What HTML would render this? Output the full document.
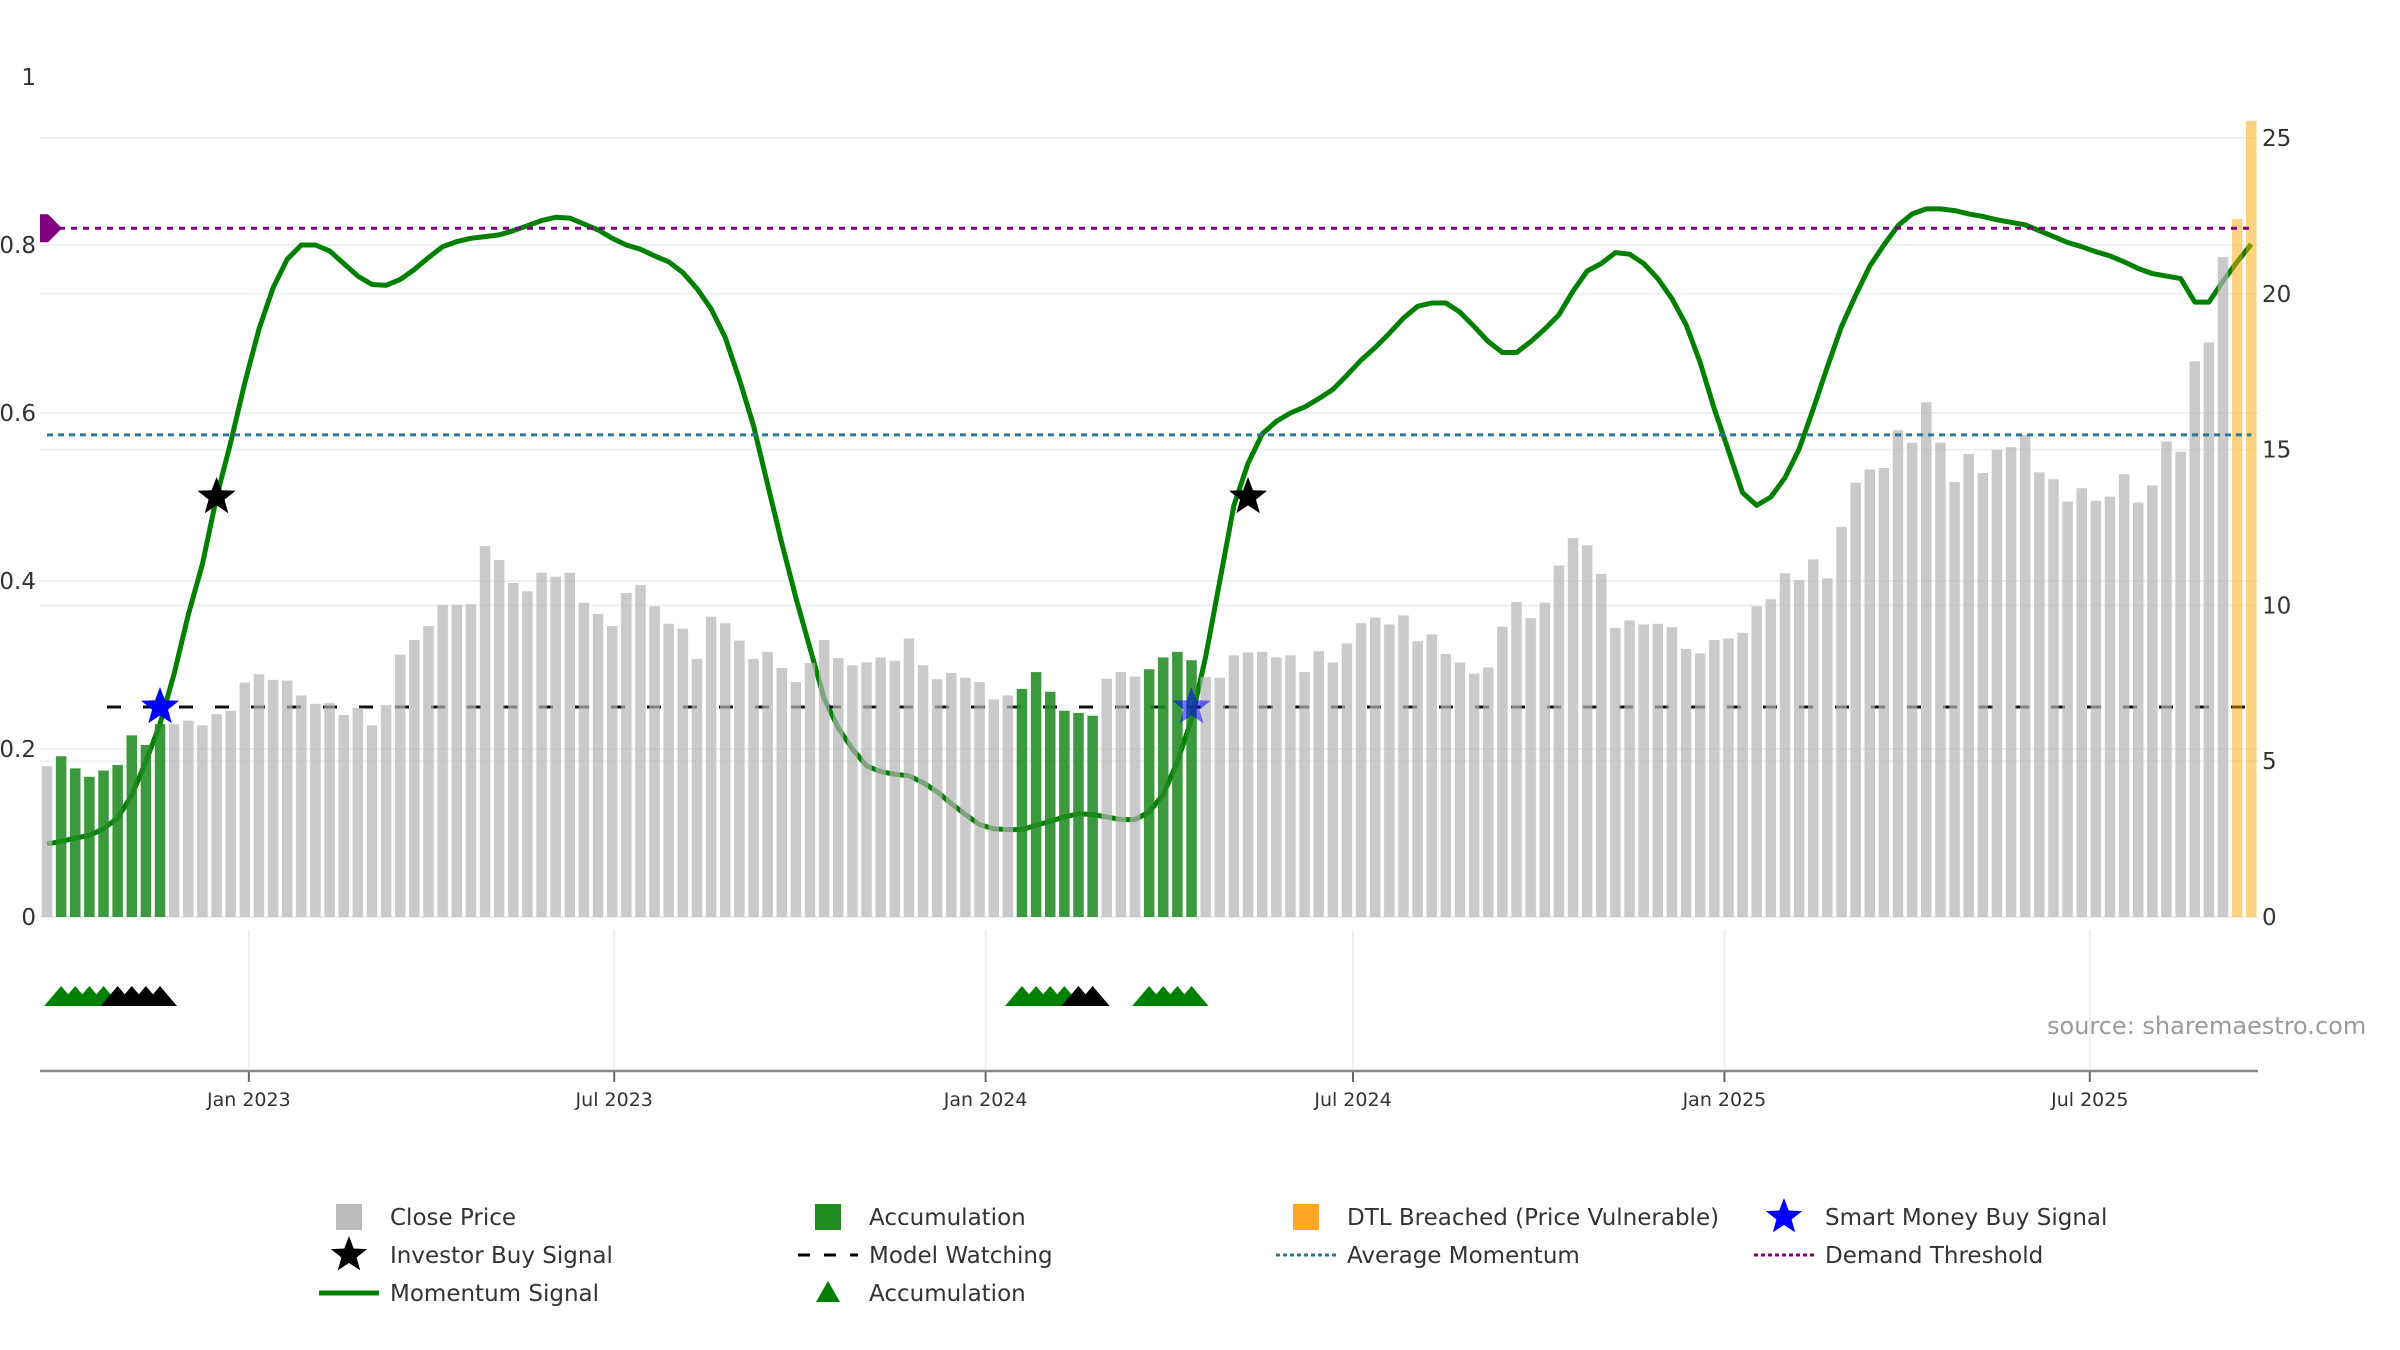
<!DOCTYPE html>
<html><head><meta charset="utf-8">
<style>
html,body{margin:0;padding:0;background:#fff;}
svg{display:block;font-family:"DejaVu Sans","Liberation Sans",sans-serif;}
</style></head>
<body>
<svg id="chart" width="2400" height="1350" viewBox="0 0 2400 1350" xmlns="http://www.w3.org/2000/svg">
<g id="grid"></g>
<g id="lines"></g>
<g id="bars"></g>
<g id="marks"></g>
<g id="axes"></g>
<text x="2047" y="1034" font-size="24" fill="#9a9a9a">source: sharemaestro.com</text>
<g id="legend"></g>
</svg>
<script>
// ---- data ----
const startDate = "2022-09-23";
const closePrices = [4.84,5.16,4.77,4.50,4.70,4.88,5.83,5.52,6.19,6.19,6.30,6.15,6.51,6.62,7.52,7.79,7.61,7.59,7.11,6.84,6.87,6.48,6.71,6.15,6.80,8.42,8.89,9.34,10.02,10.02,10.04,11.91,11.46,10.72,10.45,11.05,10.92,11.05,10.09,9.73,9.34,10.40,10.65,9.97,9.41,9.25,8.28,9.64,9.43,8.87,8.28,8.51,7.99,7.54,
8.15,8.89,8.31,8.08,8.17,8.33,8.22,8.94,8.08,7.63,7.83,7.68,7.54,6.98,7.11,7.32,7.86,7.23,6.62,6.55,6.46,7.65,7.86,7.72,7.95,8.33,8.51,8.24,7.70,7.68,8.40,8.49,8.51,8.33,8.40,7.86,8.53,8.17,8.78,9.43,9.61,9.39,9.68,8.85,9.07,8.44,8.17,7.81,8.01,9.32,10.11,9.59,10.09,11.28,12.16,11.93,
11.01,9.28,9.52,9.39,9.41,9.30,8.60,8.46,8.89,8.94,9.12,9.97,10.20,11.03,10.81,11.48,10.87,12.52,13.94,14.36,14.41,15.62,15.22,16.52,15.22,13.96,14.86,14.25,14.99,15.08,15.47,14.27,14.05,13.33,13.76,13.35,13.49,14.21,13.30,13.85,15.26,14.93,17.83,18.44,21.18,22.40,25.55];
const momentum = [.087,.09,.094,.097,.105,.118,.145,.185,.23,.29,.36,.42,.50,.565,.636,.70,.749,.783,.80,.80,.793,.778,.763,.753,.752,.759,.771,.785,.798,.804,.808,.81,.812,.817,.823,.829,.833,.832,.825,.818,.808,.80,.795,.787,.78,.767,.748,.724,.69,.64,.585,.515,.445,.38,.32,.26,.225,.20,.18,.173,.17,.168,.16,.149,.135,.122,.11,.105,.104,.104,.109,.114,.119,.123,.122,.119,.116,.116,.125,.146,.185,.235,.31,.40,.49,.54,.575,.59,.60,.607,.617,.628,.645,.663,.678,.695,.713,.727,.731,.731,.72,.703,.685,.672,.672,.685,.70,.717,.745,.769,.778,.791,.789,.778,.76,.736,.705,.66,.605,.555,.505,.49,.50,.523,.557,.605,.655,.703,.74,.775,.80,.823,.837,.843,.843,.841,.837,.834,.83,.827,.824,.817,.81,.803,.798,.792,.787,.78,.772,.766,.763,.76,.732,.732,.757,.78,.801];
const accumulationIdx = [1,2,3,4,5,6,7,8,69,70,71,72,73,74,78,79,80,81];
const dtlIdx = [155,156];
const greenTriIdx = [1,2,3,4,69,70,71,72,78,79,80,81];
const blackTriIdx = [5,6,7,8,73,74];
const smartMoneyIdx = [8,81];
const investorIdx = [12,85];
const investorLevel = 0.5;
const modelWatching = 0.25;
const avgMomentum = 0.574;
const demandThreshold = 0.82;
const leftTicks = [0,0.2,0.4,0.6,0.8,1];
const leftTickLabels = ["0","0.2","0.4","0.6","0.8","1"];
const rightTicks = [0,5,10,15,20,25];
const dateTicks = ["2023-01-01","2023-07-01","2024-01-01","2024-07-01","2025-01-01","2025-07-01"];
const dateTickLabels = ["Jan 2023","Jul 2023","Jan 2024","Jul 2024","Jan 2025","Jul 2025"];

// ---- scales ----
const X0 = 47, STEP = 14.13, BW = 10.5;
const xIdx = i => X0 + i * STEP;
const xDate = d => X0 + (new Date(d) - new Date(startDate)) / 86400000 / 7 * STEP;
const yL = v => 917 - v * 840;
const yR = v => 917 - v * 31.16;
const NS = "http://www.w3.org/2000/svg";
function mk(tag, attrs, parent){const e=document.createElementNS(NS,tag);for(const k in attrs)e.setAttribute(k,attrs[k]);parent.appendChild(e);return e;}
const grid=document.getElementById('grid'), lines=document.getElementById('lines'), bars=document.getElementById('bars'), marks=document.getElementById('marks'), axes=document.getElementById('axes'), legend=document.getElementById('legend');
const PL=40, PR=2258;

// grid
leftTicks.forEach((t,i)=>{
  if(t<1){
    const g=mk('line',{x1:PL,x2:PR,y1:yL(t),y2:yL(t),stroke:'#edf0f3','stroke-width':2},grid);
    
    
  }
  const tx=mk('text',{x:36,y:yL(t)+8,'font-size':23,fill:'#333','text-anchor':'end'},axes);
  tx.textContent=leftTickLabels[i];
  
  
});
rightTicks.forEach(t=>{
  const g=mk('line',{x1:PL,x2:PR,y1:yR(t),y2:yR(t),stroke:'#edf0f3','stroke-width':2},grid);
  
  
  const tx=mk('text',{x:2262,y:yR(t)+8,'font-size':23,fill:'#333'},axes);
  tx.textContent=String(t);
  
  
});
dateTicks.forEach((d,i)=>{
  const x=xDate(d);
  const g=mk('line',{x1:x,x2:x,y1:930,y2:1071,stroke:'#eef0f4','stroke-width':2},grid);
  
  
  const tk=mk('line',{x1:x,x2:x,y1:1071,y2:1082,stroke:'#666','stroke-width':2},axes);
  
  
  const tx=mk('text',{x:x,y:1106,'font-size':19,fill:'#333','text-anchor':'middle'},axes);
  tx.textContent=dateTickLabels[i];
  
  
});
const ax=mk('line',{x1:PL,x2:PR,y1:1071,y2:1071,stroke:'#8a8a8a','stroke-width':2.5},axes);



// momentum line (under bars)
const pts=momentum.map((v,i)=>xIdx(i).toFixed(1)+','+yL(v).toFixed(1)).join(' ');
const ml=mk('polyline',{points:pts,fill:'none',stroke:'#008000','stroke-width':5,'stroke-linejoin':'round'},lines);


// model watching
const mw=mk('line',{x1:X0+60,x2:xIdx(closePrices.length-1),y1:yL(modelWatching),y2:yL(modelWatching),stroke:'#111','stroke-width':3,'stroke-dasharray':'14,22'},lines);



// bars
closePrices.forEach((v,i)=>{
  let fill='rgb(180,180,180)', op=0.7, name='close-price-bar';
  if(accumulationIdx.includes(i)){fill='rgb(34,139,34)';op=0.88;name='accumulation-bar';}
  if(dtlIdx.includes(i)){fill='rgb(255,165,0)';op=0.5;name='dtl-breached-bar';}
  const r=mk('rect',{x:xIdx(i)-BW/2,y:yR(v),width:BW,height:917-yR(v),fill:fill,'fill-opacity':op},bars);
  
  
});

// threshold lines
const am=mk('line',{x1:X0,x2:xIdx(closePrices.length-1),y1:yL(avgMomentum),y2:yL(avgMomentum),stroke:'#2e7796','stroke-width':3,'stroke-dasharray':'6,5'},marks);


const dt=mk('line',{x1:X0,x2:xIdx(closePrices.length-1),y1:yL(demandThreshold),y2:yL(demandThreshold),stroke:'#800080','stroke-width':3,'stroke-dasharray':'6,6'},marks);


const dy=yL(demandThreshold);
const dm=mk('polygon',{points:`${PL},${dy-14} ${PL+8},${dy-14} ${PL+22},${dy} ${PL+8},${dy+14} ${PL},${dy+14}`,fill:'#800080'},marks);



function starPts(cx,cy,R){const r=R*0.42;let p=[];for(let k=0;k<10;k++){const a=-Math.PI/2+k*Math.PI/5;const rr=k%2?r:R;p.push((cx+rr*Math.cos(a)).toFixed(1)+','+(cy+rr*Math.sin(a)).toFixed(1));}return p.join(' ');}
smartMoneyIdx.forEach((i,k)=>{
  const s=mk('polygon',{points:starPts(xIdx(i),yL(modelWatching),20),fill:'#0000ff','fill-opacity':k?0.55:1},k?bars:marks);
  
  
});
investorIdx.forEach(i=>{
  const s=mk('polygon',{points:starPts(xIdx(i),yL(investorLevel),20),fill:'#000'},marks);
  
  
});
function tri(i,col){
  const x=xIdx(i);
  const t=mk('polygon',{points:`${x-17},1006 ${x},986 ${x+17},1006`,fill:col},marks);
  return t;
}
greenTriIdx.forEach(i=>{const t=tri(i,'#008000');
  
  });
blackTriIdx.forEach(i=>{const t=tri(i,'#000');
  
  });

// legend
const rows=[1217,1255,1293], cols=[349,828,1306,1784];
function ltext(c,r,txt){const t=mk('text',{x:cols[c]+41,y:rows[r]+8,'font-size':23,fill:'#333'},legend);t.textContent=txt;return t;}
function lsq(c,r,col){return mk('rect',{x:cols[c]-13,y:rows[r]-13,width:26,height:26,fill:col},legend);}
let e;
e=lsq(0,0,'#bbbbbb');
e=ltext(0,0,'Close Price');
e=lsq(1,0,'#228b22');
e=ltext(1,0,'Accumulation');
e=lsq(2,0,'#ffa726');
e=ltext(2,0,'DTL Breached (Price Vulnerable)');
e=mk('polygon',{points:starPts(cols[3],rows[0],19),fill:'#0000ff'},legend);
e=ltext(3,0,'Smart Money Buy Signal');
e=mk('polygon',{points:starPts(cols[0],rows[1],19),fill:'#000'},legend);
e=ltext(0,1,'Investor Buy Signal');
e=mk('line',{x1:cols[1]-30,x2:cols[1]+30,y1:rows[1],y2:rows[1],stroke:'#000','stroke-width':3,'stroke-dasharray':'12,14'},legend);
e=ltext(1,1,'Model Watching');
e=mk('line',{x1:cols[2]-30,x2:cols[2]+30,y1:rows[1],y2:rows[1],stroke:'#2e7796','stroke-width':3,'stroke-dasharray':'4,3'},legend);
e=ltext(2,1,'Average Momentum');
e=mk('line',{x1:cols[3]-30,x2:cols[3]+30,y1:rows[1],y2:rows[1],stroke:'#800080','stroke-width':3,'stroke-dasharray':'4,3'},legend);
e=ltext(3,1,'Demand Threshold');
e=mk('line',{x1:cols[0]-30,x2:cols[0]+30,y1:rows[2],y2:rows[2],stroke:'#008000','stroke-width':5},legend);
e=ltext(0,2,'Momentum Signal');
e=mk('polygon',{points:`${cols[1]-12},${rows[2]+9} ${cols[1]},${rows[2]-12} ${cols[1]+12},${rows[2]+9}`,fill:'#008000'},legend);
e=ltext(1,2,'Accumulation');
</script>
</body></html>
